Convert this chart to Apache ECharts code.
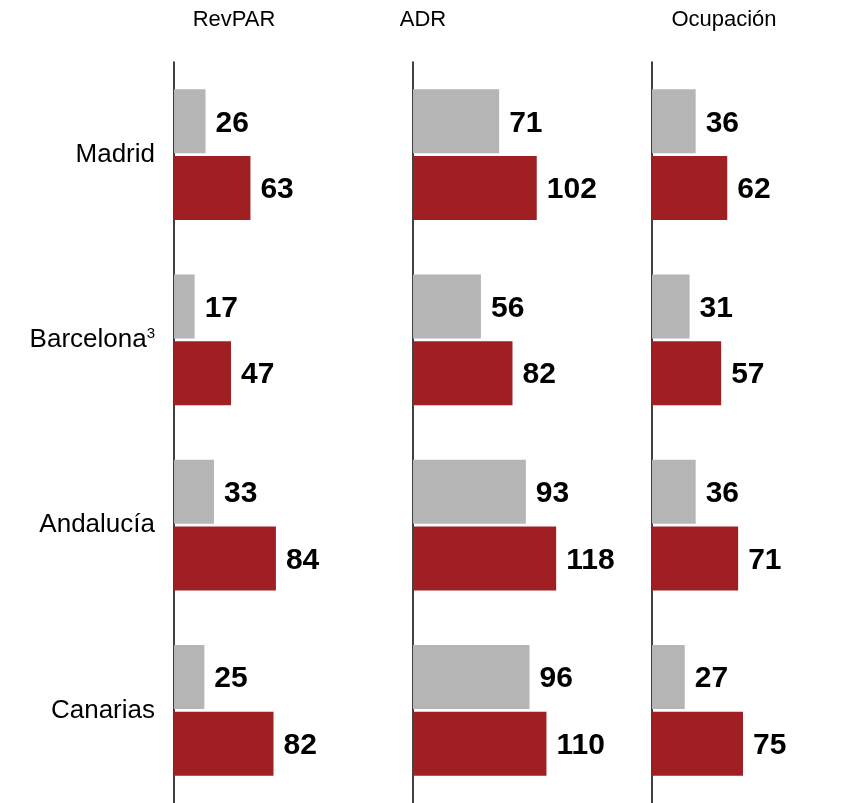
<!DOCTYPE html>
<html>
<head>
<meta charset="utf-8">
<script src="https://cdn.jsdelivr.net/npm/echarts@6/dist/echarts.min.js"></script>
<style>html,body{margin:0;padding:0;background:#fff}#c{width:866px;height:803px}</style>
</head>
<body>
<div id="c"></div>
<script>
const categories = ['Madrid', 'Barcelona', 'Andalucía', 'Canarias'];
const metrics = ['RevPAR', 'ADR', 'Ocupación'];
const revparPrev = [26, 17, 33, 25];
const revparCurr = [63, 47, 84, 82];
const adrPrev = [71, 56, 93, 96];
const adrCurr = [102, 82, 118, 110];
const ocupPrev = [36, 31, 36, 27];
const ocupCurr = [62, 57, 71, 75];

const panels = [[revparPrev, revparCurr], [adrPrev, adrCurr], [ocupPrev, ocupCurr]];
const gridLefts = [174, 413, 652];
const headerCenters = [234, 423, 724];
const FONT = '"Liberation Sans", Arial, sans-serif';

const grids = [], xAxes = [], yAxes = [], series = [], graphics = [];
panels.forEach((p, i) => {
  grids.push({left: gridLefts[i], top: 62, width: 182, height: 743});
  xAxes.push({type: 'value', gridIndex: i, min: 0, max: 150, show: false});
  yAxes.push({
    type: 'category', gridIndex: i, data: categories, inverse: true,
    axisLine: {show: true, lineStyle: {color: '#000', width: 1.5}},
    axisTick: {show: false},
    axisLabel: {
      show: i === 0, margin: 19, fontSize: 26, color: '#000', fontFamily: FONT,
      formatter: v => v === 'Barcelona' ? 'Barcelona{sup|3}' : v,
      rich: {sup: {fontSize: 15, verticalAlign: 'top', padding: [0, 0, 13, 0], color: '#000', fontFamily: FONT}}
    }
  });
  const lbl = {show: true, position: 'right', distance: 10, offset: [0, 2], fontSize: 30, fontWeight: 'bold', color: '#000', fontFamily: FONT};
  series.push({type: 'bar', xAxisIndex: i, yAxisIndex: i, data: p[0], barWidth: 64, barGap: '4%',
    itemStyle: {color: '#b5b5b5'}, label: lbl, silent: true});
  series.push({type: 'bar', xAxisIndex: i, yAxisIndex: i, data: p[1], barWidth: 64, barGap: '4%',
    itemStyle: {color: '#a01f22'}, label: lbl, silent: true});
  graphics.push({type: 'text', x: headerCenters[i], y: 20,
    style: {text: metrics[i], fontSize: 22, fill: '#000', fontFamily: FONT, align: 'center', verticalAlign: 'middle'}});
});

const chart = echarts.init(document.getElementById('c'), null, {renderer: 'canvas'});
chart.setOption({
  animation: false,
  backgroundColor: '#fff',
  graphic: graphics,
  grid: grids,
  xAxis: xAxes,
  yAxis: yAxes,
  series: series
});
</script>
</body>
</html>
